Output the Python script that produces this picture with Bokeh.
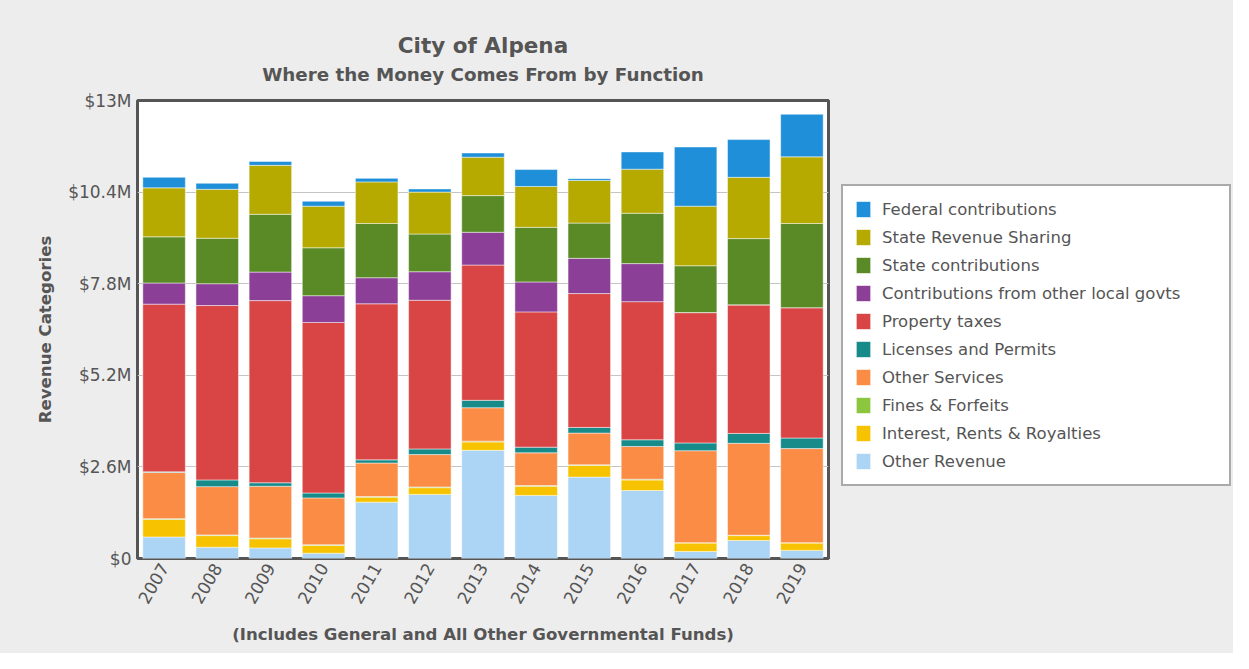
import math
from bokeh.plotting import figure
from bokeh.layouts import row
from bokeh.models import (FactorRange, Range1d, FixedTicker, Legend, LegendItem,
                          Title, ColumnDataSource)
from bokeh.embed import file_html
from bokeh.resources import INLINE

# ---------------- data (values in $ millions) ----------------
years = ["2007", "2008", "2009", "2010", "2011", "2012", "2013",
         "2014", "2015", "2016", "2017", "2018", "2019"]

other_revenue = [0.61, 0.32, 0.30, 0.15, 1.60, 1.82, 3.07, 1.79, 2.31, 1.93, 0.20, 0.51, 0.23]
interest_rents = [0.50, 0.33, 0.26, 0.22, 0.14, 0.19, 0.24, 0.26, 0.33, 0.30, 0.24, 0.14, 0.21]
fines_forfeits = [0.02, 0.02, 0.02, 0.02, 0.02, 0.02, 0.02, 0.02, 0.02, 0.02, 0.01, 0.01, 0.01]
other_services = [1.31, 1.37, 1.47, 1.33, 0.95, 0.92, 0.95, 0.93, 0.90, 0.93, 2.61, 2.61, 2.67]
licenses_permits = [0.02, 0.19, 0.10, 0.14, 0.09, 0.16, 0.21, 0.16, 0.16, 0.19, 0.22, 0.28, 0.30]
property_taxes = [4.76, 4.95, 5.17, 4.84, 4.43, 4.22, 3.84, 3.84, 3.80, 3.92, 3.70, 3.65, 3.70]
contrib_local = [0.60, 0.62, 0.81, 0.76, 0.74, 0.81, 0.93, 0.85, 1.00, 1.08, 0.00, 0.00, 0.00]
state_contrib = [1.31, 1.29, 1.64, 1.36, 1.54, 1.07, 1.04, 1.55, 1.00, 1.43, 1.33, 1.88, 2.39]
state_rev_sharing = [1.39, 1.39, 1.39, 1.18, 1.18, 1.19, 1.09, 1.16, 1.21, 1.25, 1.69, 1.74, 1.89]
federal_contrib = [0.30, 0.17, 0.11, 0.14, 0.10, 0.09, 0.12, 0.48, 0.05, 0.49, 1.68, 1.07, 1.21]

# bottom-to-top stacking order
series_names = ["Other Revenue", "Interest, Rents & Royalties", "Fines & Forfeits",
                "Other Services", "Licenses and Permits", "Property taxes",
                "Contributions from other local govts", "State contributions",
                "State Revenue Sharing", "Federal contributions"]
series_values = [other_revenue, interest_rents, fines_forfeits, other_services,
                 licenses_permits, property_taxes, contrib_local, state_contrib,
                 state_rev_sharing, federal_contrib]
series_colors = ["#acd4f4", "#f7c300", "#8cc63e", "#fb8c46", "#178a8a",
                 "#d94545", "#8b3f96", "#5a8a25", "#b6aa00", "#1e8fd8"]

y_ticks = [0, 2.6, 5.2, 7.8, 10.4, 13]
y_tick_labels = ["$0", "$2.6M", "$5.2M", "$7.8M", "$10.4M", "$13M"]

title_text = "City of Alpena"
subtitle_text = "Where the Money Comes From by Function"
x_label = "(Includes General and All Other Governmental Funds)"
y_label = "Revenue Categories"

# ---------------- main chart ----------------
FONT = "DejaVu Sans"
TXT = "#555555"
BG = "#ededed"

keys = ["s%d" % i for i in range(len(series_names))]
data = {"year": years}
for k, v in zip(keys, series_values):
    data[k] = v
source = ColumnDataSource(data)

p = figure(x_range=FactorRange(*years), y_range=Range1d(0, 13),
           width=830, height=653, title=None,
           output_backend="svg", toolbar_location=None,
           min_border_left=137, min_border_right=2,
           min_border_top=100, min_border_bottom=95)

p.background_fill_color = "white"
p.border_fill_color = BG
p.outline_line_color = "#555555"
p.outline_line_width = 3

renderers = p.vbar_stack(keys, x="year", width=0.8, source=source,
                         fill_color=series_colors, line_color="white",
                         line_width=0.8, line_alpha=0.6)

# titles (first added sits closest to the frame)
p.add_layout(Title(text=" ", text_font_size="1px", standoff=8), "above")
p.add_layout(Title(text=subtitle_text, align="center", text_font=FONT,
                   text_font_size="18.3px", text_font_style="bold",
                   text_color=TXT, standoff=9), "above")
p.add_layout(Title(text=title_text, align="center", text_font=FONT,
                   text_font_size="21.5px", text_font_style="bold",
                   text_color=TXT, standoff=0), "above")

# axes
p.xgrid.grid_line_color = None
p.ygrid.grid_line_color = "#c4c4c4"
p.ygrid.grid_line_width = 1

p.yaxis.ticker = FixedTicker(ticks=y_ticks)
p.yaxis.major_label_overrides = {t: l for t, l in zip(y_ticks, y_tick_labels)}
for ax in (p.xaxis[0], p.yaxis[0]):
    ax.axis_line_color = None
    ax.major_tick_line_color = None
    ax.minor_tick_line_color = None
    ax.major_tick_in = 0
    ax.major_tick_out = 0
    ax.major_label_text_font = FONT
    ax.major_label_text_font_size = "17px"
    ax.major_label_text_color = TXT
    ax.axis_label_text_font = FONT
    ax.axis_label_text_font_size = "16.6px"
    ax.axis_label_text_font_style = "bold"
    ax.axis_label_text_color = TXT

p.yaxis.axis_label = y_label
p.yaxis.major_label_standoff = 6
p.yaxis.axis_label_standoff = 10
p.xaxis.axis_label = x_label
p.xaxis.major_label_orientation = math.pi / 3
p.xaxis.major_label_standoff = 6
p.xaxis.axis_label_standoff = 14
p.x_range.range_padding = 0

# ---------------- legend panel (separate canvas to the right) ----------------
lf = figure(width=403, height=653, x_range=Range1d(0, 1), y_range=Range1d(0, 1),
            output_backend="svg", toolbar_location=None, title=None,
            min_border_left=0, min_border_right=0,
            min_border_top=100, min_border_bottom=95)
lf.axis.visible = False
lf.grid.visible = False
lf.outline_line_color = None
lf.background_fill_color = None
lf.border_fill_color = BG

# off-screen placeholder glyphs that only serve as legend swatches
hidden = ColumnDataSource({"x": [-5.0], "top": [-5.0]})
swatches = [lf.vbar(x="x", top="top", width=0.1, source=hidden,
                    fill_color=c, line_color="white", line_alpha=0.6)
            for c in series_colors]

items = [LegendItem(label=n, renderers=[r])
         for n, r in zip(reversed(series_names), reversed(swatches))]
legend = Legend(items=items, location=(11, 72), orientation="vertical",
                padding=11, spacing=4, margin=0,
                glyph_width=18, glyph_height=20, label_height=24,
                label_standoff=10, label_width=336,
                label_text_font=FONT, label_text_font_size="16.5px",
                label_text_color=TXT,
                background_fill_color="white", background_fill_alpha=1,
                border_line_color="#555555", border_line_width=2)
lf.add_layout(legend, "center")

layout = row(p, lf, spacing=0, styles={"background-color": BG})
open("out.html", "w").write(file_html(layout, INLINE))
